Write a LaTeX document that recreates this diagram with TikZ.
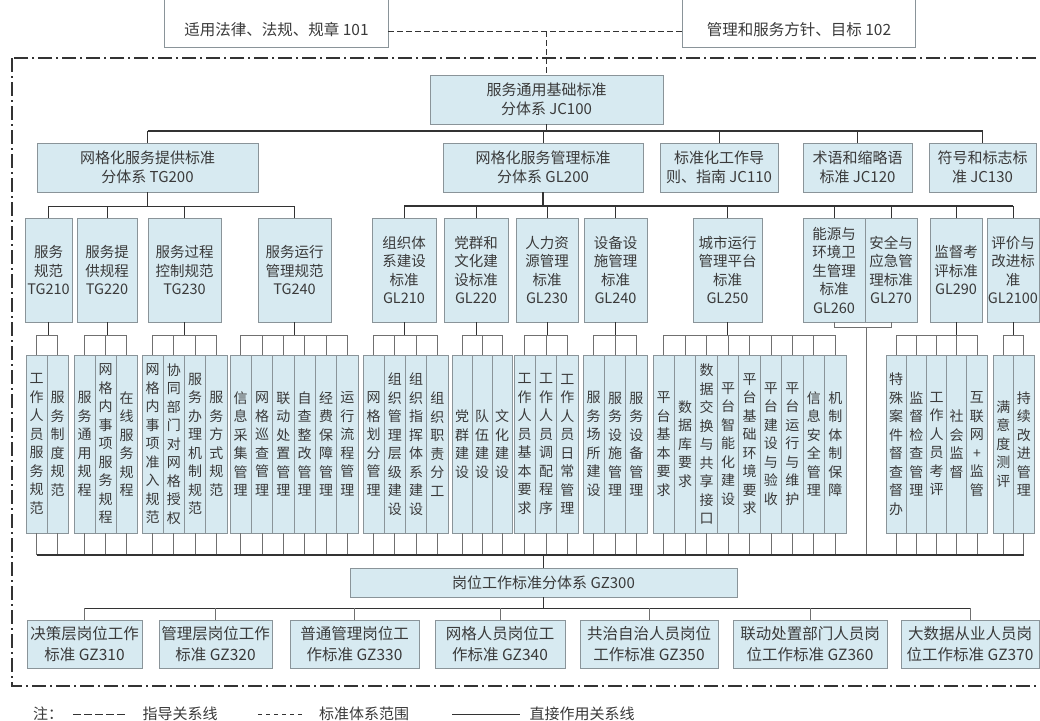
\documentclass[tikz,border=0pt]{standalone}
\usepackage{fontspec}
\setmainfont{Noto Sans CJK SC}
\usetikzlibrary{calc}
\definecolor{boxfill}{HTML}{D7EAF1}
\definecolor{boxline}{HTML}{8A9499}
\definecolor{txt}{HTML}{3A3A3A}
\definecolor{dark}{HTML}{333333}
\definecolor{grayln}{HTML}{707070}
\ExplSyntaxOn
\NewDocumentCommand\vchars{m}{
  \seq_clear:N \l_tmpa_seq
  \tl_map_inline:nn {#1} { \seq_put_right:Nn \l_tmpa_seq {##1} }
  \seq_use:Nn \l_tmpa_seq {\\}
}
\ExplSyntaxOff
\tikzset{
 box/.style={draw=boxline, fill=boxfill, line width=0.9pt, inner sep=0pt, align=center, text=txt, font=\fontsize{14.5}{18.5}\selectfont},
 bigbox/.style={font=\fontsize{15}{19.5}\selectfont},
 lowbox/.style={font=\fontsize{15.5}{21}\selectfont},
 vbox/.style={box, minimum height=178pt, font=\fontsize{14}{18.5}\selectfont},
 conn/.style={draw=dark, line width=1pt},
 thinconn/.style={draw=grayln, line width=0.8pt},
 mainconn/.style={draw=dark, line width=1.4pt},
 frame/.style={draw=dark, line width=2pt, dash pattern=on 14pt off 4pt on 2pt off 4pt},
 guide/.style={draw=dark, line width=0.9pt, dash pattern=on 6pt off 3pt},
 topbox/.style={draw=boxline, line width=0.9pt},
 note/.style={text=txt, font=\fontsize{15}{16}\selectfont, inner sep=0pt},
}
\newcommand\bx[6][]{\node[box,minimum width={#4pt-#2pt},minimum height={#5pt-#3pt},#1] (#6) at ({(#2+#4)/2},{(#3+#5)/2})}
\newcommand\grp[5]{%
 \pgfmathsetmacro\gw{(#3-#2)/#4}%
 \foreach \vtxt [count=\i] in {#5}{%
   \pgfmathsetmacro\gcx{#2+(\i-0.5)*\gw}%
   \node[vbox,minimum width=\gw pt] (#1c\i) at (\gcx,444) {\expandafter\vchars\expandafter{\vtxt}};
   \draw[thinconn] (#1c\i.north) |- (#1.south |- 0,335);
   \draw[thinconn] (#1c\i.south) -- (#1c\i.south |- 0,555);
 }%
 \draw[conn] (#1.south) -- (#1.south |- 0,335);
}
\begin{document}
\begin{tikzpicture}[x=1pt,y=-1pt]
\clip (0,0) rectangle (1040,720);
\fill[white] (0,0) rectangle (1040,720);
% frame
\draw[frame] (12,58) rectangle (1060,686);
% top boxes
\bx[draw=none,fill=white,lowbox]{165}{13}{388}{47}{law} {适用法律、法规、规章 101};
\bx[draw=none,fill=white,lowbox]{683}{13}{915}{47}{goal} {管理和服务方针、目标 102};
\draw[topbox] ([yshift=20pt]law.north west) -- (law.south west) -- (law.south east) -- ([yshift=20pt]law.north east);
\draw[topbox] ([yshift=20pt]goal.north west) -- (goal.south west) -- (goal.south east) -- ([yshift=20pt]goal.north east);
% level 1
\bx[bigbox]{430}{75}{663}{124}{jc100} {服务通用基础标准\\分体系 JC100};
\coordinate (tj) at (jc100.north |- 0,31);
\draw[guide] (law.east |- 0,31) -- (goal.west |- 0,31);
\draw[guide] (tj) -- (jc100.north);
% level 2
\bx[bigbox]{37}{143}{258}{192}{tg200}{网格化服务提供标准\\分体系 TG200};
\bx[bigbox]{443}{143}{643}{192}{gl200}{网格化服务管理标准\\分体系 GL200};
\bx[bigbox]{660}{143}{778}{192}{jc110}{标准化工作导\\则、指南 JC110};
\bx[bigbox]{803}{143}{912}{192}{jc120}{术语和缩略语\\标准 JC120};
\bx[bigbox]{929}{143}{1036}{192}{jc130}{符号和标志标\\准 JC130};
\draw[mainconn] (jc100.south) -- (jc100.south |- 0,131);
\draw[mainconn] (tg200.north |- 0,131) -- (jc130.north |- 0,131);
\foreach \n in {tg200,gl200,jc110,jc120,jc130} \draw[conn] (\n.north) -- (\n.north |- 0,131);
% level 3
\bx{25}{218}{72}{322}{tg210}{服务\\规范\\TG210};
\bx{77}{218}{137}{322}{tg220}{服务提\\供规程\\TG220};
\bx{148}{218}{221}{322}{tg230}{服务过程\\控制规范\\TG230};
\bx{258}{218}{331}{322}{tg240}{服务运行\\管理规范\\TG240};
\bx{372}{218}{436}{322}{gl210}{组织体\\系建设\\标准\\GL210};
\bx{444}{218}{508}{322}{gl220}{党群和\\文化建\\设标准\\GL220};
\bx{516}{218}{578}{322}{gl230}{人力资\\源管理\\标准\\GL230};
\bx{584}{218}{647}{322}{gl240}{设备设\\施管理\\标准\\GL240};
\bx{693}{218}{762}{322}{gl250}{城市运行\\管理平台\\标准\\GL250};
\bx{803}{218}{865}{322}{gl260}{能源与\\环境卫\\生管理\\标准\\GL260};
\bx{865}{218}{917}{322}{gl270}{安全与\\应急管\\理标准\\GL270};
\bx{930}{218}{982}{322}{gl290}{监督考\\评标准\\GL290};
\bx{987}{218}{1039}{322}{gl2100}{评价与\\改进标\\准\\GL2100};
\draw[conn] (tg200.south) -- (tg200.south |- 0,206);
\draw[conn] (tg210.north |- 0,206) -- (tg240.north |- 0,206);
\foreach \n in {tg210,tg220,tg230,tg240} \draw[conn] (\n.north) -- (\n.north |- 0,206);
\draw[mainconn] (gl200.south) -- (gl200.south |- 0,206);
\draw[mainconn] (gl210.north |- 0,206) -- (gl2100.north |- 0,206);
\foreach \n in {gl210,gl220,gl230,gl240,gl250,gl260,gl270,gl290,gl2100} \draw[conn] (\n.north) -- (\n.north |- 0,206);
% level 4
\grp{tg210}{26}{68}{2}{工作人员服务规范,服务制度规范}
\grp{tg220}{74}{137}{3}{服务通用规程,网格内事项服务规程,在线服务规程}
\grp{tg230}{142}{227}{4}{网格内事项准入规范,协同部门对网格授权,服务办理机制规范,服务方式规范}
\grp{tg240}{230}{358}{6}{信息采集管理,网格巡查管理,联动处置管理,自查整改管理,经费保障管理,运行流程管理}
\grp{gl210}{363}{448}{4}{网格划分管理,组织管理层级建设,组织指挥体系建设,组织职责分工}
\grp{gl220}{452}{512}{3}{党群建设,队伍建设,文化建设}
\grp{gl230}{514}{578}{3}{工作人员基本要求,工作人员调配程序,工作人员日常管理}
\grp{gl240}{583}{647}{3}{服务场所建设,服务设施管理,服务设备管理}
\grp{gl250}{653}{846}{9}{平台基本要求,数据库要求,数据交换与共享接口,平台智能化建设,平台基础环境要求,平台建设与验收,平台运行与维护,信息安全管理,机制体制保障}
\grp{gl290}{886}{987}{5}{特殊案件督查督办,监督检查管理,工作人员考评,社会监督,互联网+监管}
\grp{gl2100}{993}{1034}{2}{满意度测评,持续改进管理}
% GL260 / GL270 direct
\draw[thinconn] (gl260.south) -- (gl260.south |- 0,327) -- (gl270.south |- 0,327) -- (gl270.south);
\coordinate (j67) at (866,327);
\draw[thinconn] (j67) -- (j67 |- 0,555);
% GZ300
\bx[bigbox]{350}{568}{737}{597}{gz300}{岗位工作标准分体系 GZ300};
\draw[mainconn] (tg210c1.south |- 0,555) -- (gl2100c2.south |- 0,555);
\draw[mainconn] (gz300.north |- 0,555) -- (gz300.north);
% level 5
\bx[lowbox]{27}{620}{142}{668}{gz310}{决策层岗位工作\\标准 GZ310};
\bx[lowbox]{159}{620}{272}{668}{gz320}{管理层岗位工作\\标准 GZ320};
\bx[lowbox]{290}{620}{419}{668}{gz330}{普通管理岗位工\\作标准 GZ330};
\bx[lowbox]{435}{620}{565}{668}{gz340}{网格人员岗位工\\作标准 GZ340};
\bx[lowbox]{580}{620}{718}{668}{gz350}{共治自治人员岗位\\工作标准 GZ350};
\bx[lowbox]{733}{620}{887}{668}{gz360}{联动处置部门人员岗\\位工作标准 GZ360};
\bx[lowbox]{901}{620}{1039}{668}{gz370}{大数据从业人员岗\\位工作标准 GZ370};
\draw[mainconn] (gz300.south) -- (gz300.south |- 0,608);
\draw[conn] (gz310.north |- 0,608) -- (gz370.north |- 0,608);
\foreach \n in {gz310,gz320,gz330,gz340,gz350,gz360,gz370} \draw[thinconn] (\n.north) -- (\n.north |- 0,608);
% legend
\node[note] (lz) at (48,714) {注：};
\draw[draw=dark, line width=0.9pt, dash pattern=on 8pt off 3pt] (73,714) -- (127,714);
\node[note] (l1) at (180,714) {指导关系线};
\draw[draw=dark, line width=0.9pt, dash pattern=on 4pt off 4pt] (258,714) -- (305,714);
\node[note] (l2) at (364,714) {标准体系范围};
\draw[draw=dark, line width=0.9pt] (452,714) -- (520,714);
\node[note] (l3) at (582,714) {直接作用关系线};
\end{tikzpicture}
\end{document}
